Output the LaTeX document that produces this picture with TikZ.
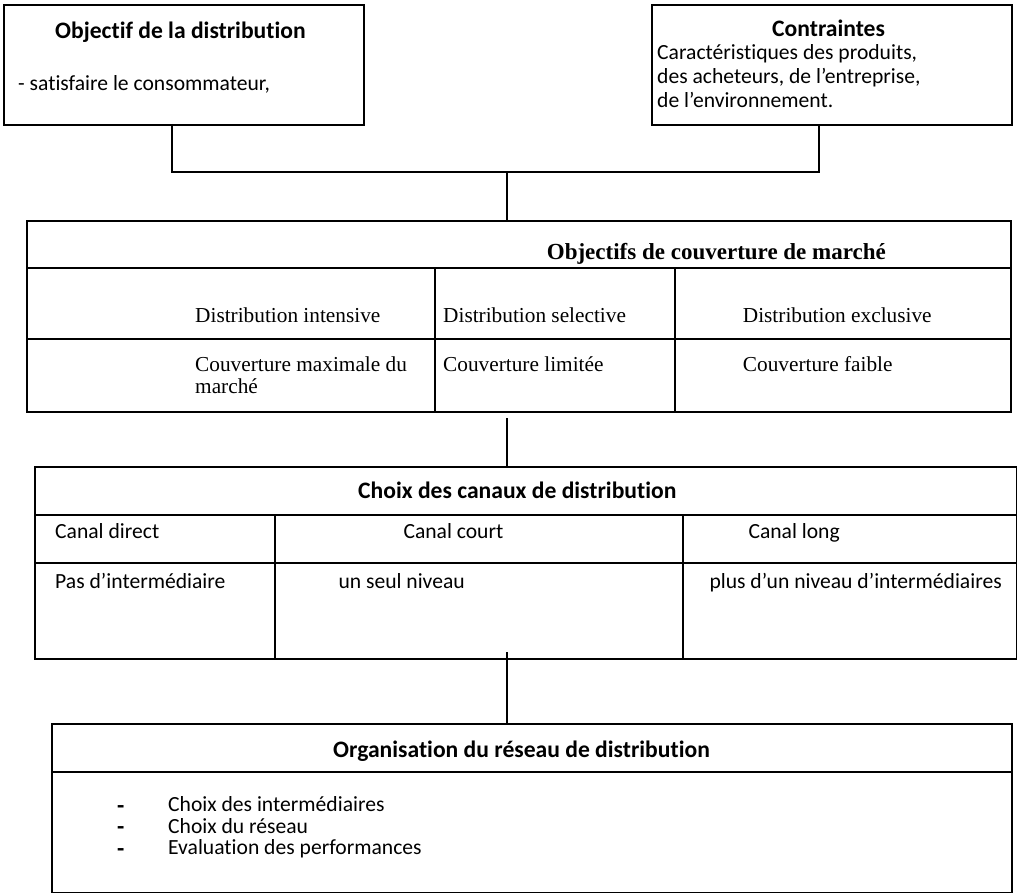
\documentclass[tikz,border=0pt]{standalone}
\usepackage{fontspec}
\newfontfamily\sansbody[Ligatures=NoCommon]{Carlito}
\newfontfamily\serifbody[Ligatures=NoCommon]{Liberation Serif}
\begin{document}
\begin{tikzpicture}[x=1pt,y=-1pt,
  frame/.style={draw=black, line width=1.6pt, rectangle, inner sep=0pt, anchor=north west},
  rule/.style={draw=black, line width=1.6pt},
  link/.style={draw=black, line width=1.6pt},
  stxt/.style={anchor=base west, inner sep=0pt, font=\sansbody\fontsize{21.6}{24}\selectfont},
  shead/.style={anchor=base west, inner sep=0pt, font=\sansbody\bfseries\fontsize{23.6}{26}\selectfont},
  rtxt/.style={anchor=base west, inner sep=0pt, font=\serifbody\fontsize{21.3}{24}\selectfont},
  rhead/.style={anchor=base west, inner sep=0pt, font=\serifbody\bfseries\fontsize{23}{26}\selectfont}]
\useasboundingbox (0,0) rectangle (1017,893);

% --- top boxes -------------------------------------------------------
\node[frame, minimum width=360pt, minimum height=120pt] (obj) at (3,4) {};
\node[shead] (objt) at (55,39) {Objectif de la distribution};
\node[stxt] (objl) at (18,90.7) {- satisfaire le consommateur,};

\node[frame, minimum width=360pt, minimum height=120pt] (cns) at (651,4) {};
\node[shead] (cnst) at (772,37) {Contraintes};
\node[stxt] (cns1) at (657,59.3) {Caractéristiques des produits,};
\node[stxt] (cns2) at (657,83.3) {des acheteurs, de l’entreprise,};
\node[stxt] (cns3) at (657,107.3) {de l’environnement.};

% --- market coverage table ---------------------------------------------
\node[frame, minimum width=984pt, minimum height=191pt] (cov) at (26,220) {};
\draw[rule] (26,268) -- (1010,268);
\draw[rule] (26,339) -- (1010,339);
\draw[rule] (435,268) -- (435,411);
\draw[rule] (675,268) -- (675,411);
\node[rhead] (covt) at (546.7,260) {Objectifs de couverture de marché};
\node[rtxt] (cova) at (195,323) {Distribution intensive};
\node[rtxt] (covb) at (443,323) {Distribution selective};
\node[rtxt] (covc) at (742.7,323) {Distribution exclusive};
\node[rtxt] (cova1) at (195,371.7) {Couverture maximale du};
\node[rtxt] (cova2) at (195,393.3) {marché};
\node[rtxt] (covb1) at (443,371.7) {Couverture limitée};
\node[rtxt] (covc1) at (742.7,371.7) {Couverture faible};

% --- channel table -----------------------------------------------------
\node[frame, minimum width=982pt, minimum height=192pt] (can) at (34,466) {};
\draw[rule] (34,515) -- (1016,515);
\draw[rule] (34,563) -- (1016,563);
\draw[rule] (275,515) -- (275,658);
\draw[rule] (683,515) -- (683,658);
\node[shead] (cant) at (358,498) {Choix des canaux de distribution};
\node[stxt] (cana) at (55,538.3) {Canal direct};
\node[stxt] (canb) at (403.3,538.3) {Canal court};
\node[stxt] (canc) at (748.3,538.3) {Canal long};
\node[stxt] (cana1) at (55,588.3) {Pas d’intermédiaire};
\node[stxt] (canb1) at (338.3,588.3) {un seul niveau};
\node[stxt] (canc1) at (709.3,588.3) {plus d’un niveau d’intermédiaires};

% --- network organisation box -----------------------------------------
\node[frame, minimum width=960pt, minimum height=169pt] (org) at (51,723) {};
\draw[rule] (51,772) -- (1011,772);
\node[shead] (orgt) at (333,757) {Organisation du réseau de distribution};
\node[shead] (orgd1) at (117,813) {-};
\node[shead] (orgd2) at (117,834.6) {-};
\node[shead] (orgd3) at (117,856) {-};
\node[stxt] (org1) at (168,811.7) {Choix des intermédiaires};
\node[stxt] (org2) at (168,833.3) {Choix du réseau};
\node[stxt] (org3) at (168,854.7) {Evaluation des performances};

% --- connectors --------------------------------------------------------
\coordinate (objfoot) at (172,124);
\coordinate (cnsfoot) at (819,124);
\coordinate (jn) at (507,172);
\coordinate (covfoot) at (507,418);
\coordinate (canfoot) at (507,652);
\draw[link] (objfoot) -- (objfoot |- jn) -- (cnsfoot |- jn) -- (cnsfoot);
\draw[link] (jn) -- (cov.north -| jn);
\draw[link] (covfoot) -- (can.north -| covfoot);
\draw[link] (canfoot) -- (org.north -| canfoot);
\end{tikzpicture}
\end{document}
